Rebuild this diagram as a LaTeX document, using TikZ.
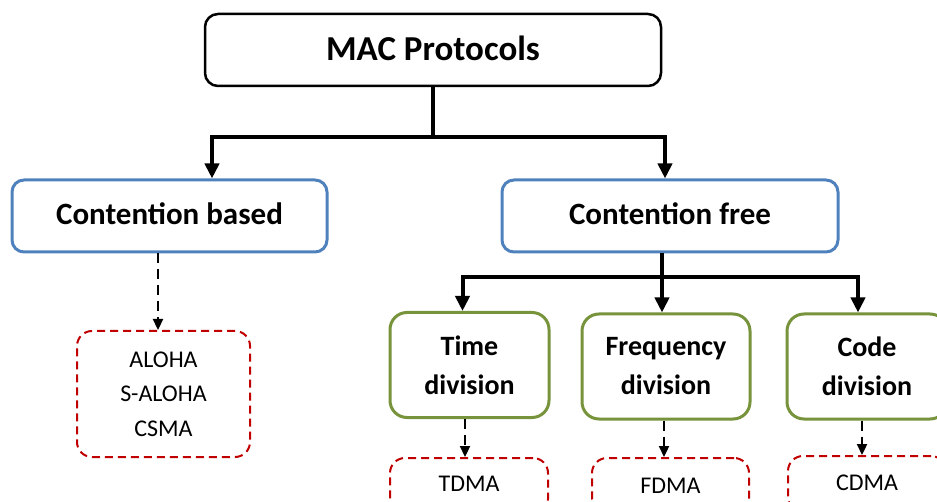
\documentclass[tikz,border=0pt]{standalone}
\usepackage{fontspec}
\setmainfont{Carlito}
\usetikzlibrary{arrows.meta}
\definecolor{boxblue}{HTML}{4F81BD}
\definecolor{boxgreen}{HTML}{77933C}
\definecolor{boxred}{HTML}{C00000}
\begin{document}
\begin{tikzpicture}[x=1pt,y=-1pt,
  base/.style={draw, rectangle, inner sep=0pt, align=center},
  topbox/.style={base, line width=2.5pt, draw=black, rounded corners=13pt,
    font=\fontsize{35}{42}\selectfont\bfseries},
  bluebox/.style={base, line width=3pt, draw=boxblue, rounded corners=12pt,
    minimum height=72pt, font=\fontsize{31}{38}\selectfont\bfseries},
  greenbox/.style={base, line width=3pt, draw=boxgreen, rounded corners=17pt,
    minimum height=105pt, font=\fontsize{28}{39}\selectfont\bfseries},
  redbox/.style={base, line width=2pt, draw=boxred, dash pattern=on 8pt off 5pt,
    rounded corners=15pt, font=\fontsize{24}{34.5}\selectfont},
  solidline/.style={line width=4pt, draw=black},
  solidarrow/.style={solidline, -{Triangle[length=15pt,width=14pt]}},
  dasharrow/.style={line width=2.3pt, draw=black, dash pattern=on 10pt off 6pt,
    -{Triangle[length=11pt,width=10pt]}}
]
\path[use as bounding box] (0,0) rectangle (937,502);
\clip (0,0) rectangle (937,502);

\node[topbox, minimum width=456pt, minimum height=72pt] (mac) at (433,50) {\raisebox{3pt}{MAC Protocols}};

\node[bluebox, minimum width=315pt] (cb) at (169.5,216) {\raisebox{5pt}{Contention based}};
\node[bluebox, minimum width=336pt] (cf) at (670,216) {\raisebox{5pt}{Contention free}};

\node[redbox, minimum width=173pt, minimum height=126pt] (aloha) at (163.5,394) {ALOHA\\S-ALOHA\\CSMA};

\node[greenbox, minimum width=159pt] (td) at (469.5,365) {Time\\division};
\node[greenbox, minimum width=168pt] (fd) at (666,366.5) {Frequency\\division};
\node[greenbox, minimum width=160pt] (cd) at (867,366.5) {Code\\division};

\node[redbox, minimum width=158pt, minimum height=56pt] (tdma) at (469,486) {\raisebox{4pt}{TDMA}};
\node[redbox, minimum width=157pt, minimum height=56pt] (fdma) at (670.5,486) {\raisebox{1pt}{FDMA}};
\node[redbox, minimum width=158pt, minimum height=56pt] (cdma) at (867,484) {\raisebox{3pt}{CDMA}};

% connectors from MAC Protocols
\coordinate (j1) at (433,137);
\draw[solidline] (mac.south) -- (j1);
\draw[solidarrow] (j1) -| ([xshift=42.5pt]cb.north);
\draw[solidarrow] (j1) -| ([xshift=-5pt]cf.north);

% connectors from Contention free
\coordinate (j2) at (662,277);
\draw[solidline] (cf.south -| j2) -- (j2);
\draw[solidarrow] (j2) -| ([xshift=-7pt]td.north);
\draw[solidarrow] (j2) -- (fd.north -| j2);
\draw[solidarrow] (j2) -| ([xshift=-9pt]cd.north);

% dashed arrows
\draw[dasharrow] ([xshift=-11.5pt]cb.south) -- ([xshift=-5.5pt]aloha.north);
\draw[dasharrow] ([xshift=-4.5pt]td.south) -- ([xshift=-4pt]tdma.north);
\draw[dasharrow] ([xshift=-2pt]fd.south) -- ([xshift=-6.5pt]fdma.north);
\draw[dasharrow] ([xshift=-5pt]cd.south) -- ([xshift=-5pt]cdma.north);
\end{tikzpicture}
\end{document}
